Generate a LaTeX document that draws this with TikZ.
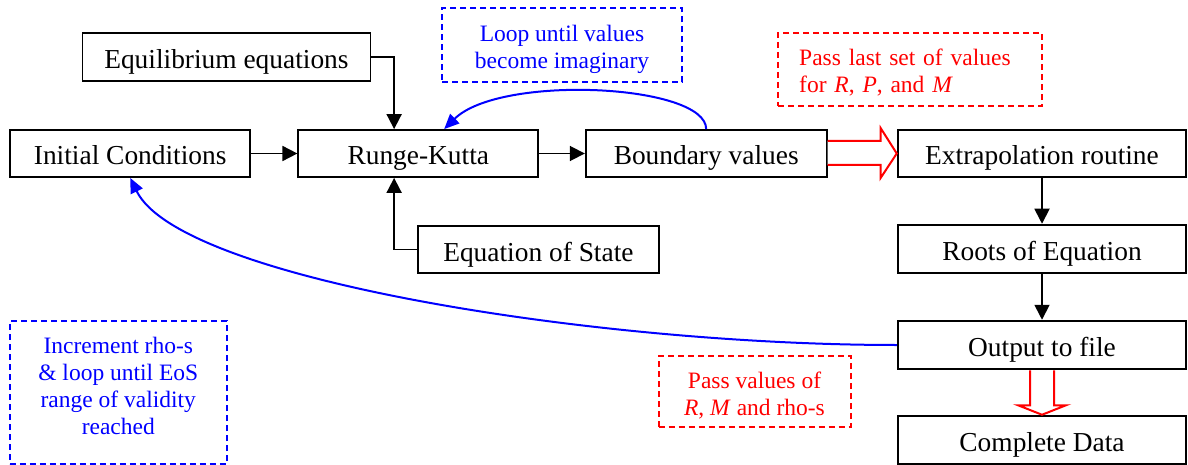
\documentclass[tikz,border=0pt]{standalone}
\usepackage{fontspec}
\setmainfont{Liberation Serif}
\usetikzlibrary{arrows.meta,calc}

\begin{document}
\begin{tikzpicture}[x=1pt,y=-1pt,
  box/.style={draw=black,line width=1.8pt,inner sep=0pt,text height=23pt,text depth=0pt,
    font=\fontsize{27.4}{32}\selectfont},
  boxb/.style={box,line width=2.5pt},
  note/.style={draw,line width=2pt,dash pattern=on 6pt off 4pt,inner sep=0pt,
    font=\fontsize{23.5}{27}\selectfont},
  arr/.style={-{Triangle[length=15pt,width=15pt]},line width=1.8pt},
  loop/.style={blue,line width=2pt,-{Triangle[length=15pt,width=13pt]}},
  hollow/.style={draw=red,fill=white,line width=2pt,line join=miter}
]
\useasboundingbox (0,0) rectangle (1188,465);

% process boxes
\node[box,minimum width=288pt,minimum height=48pt] (eq)  at (226.4,57)    {Equilibrium equations};
\node[box,minimum width=240pt,minimum height=47pt] (ic)  at (130.2,153.5) {Initial Conditions};
\node[box,minimum width=240pt,minimum height=47pt] (rk)  at (418.3,153.5) {Runge-Kutta};
\node[box,minimum width=241pt,minimum height=47pt] (bv)  at (706.2,153.5) {Boundary values};
\node[box,minimum width=241pt,minimum height=47pt] (eos) at (538.4,249.5) {Equation of State};
\node[boxb,minimum width=288pt,minimum height=47pt] (ex)  at (1042,153.5) {Extrapolation routine};
\node[boxb,minimum width=288pt,minimum height=48pt] (ro)  at (1042,249)   {Roots of Equation};
\node[boxb,minimum width=288pt,minimum height=48pt] (out) at (1042,345)   {Output to file};
\node[boxb,minimum width=288pt,minimum height=48pt] (cd)  at (1042,440)   {Complete Data};

% dashed annotations
\node[note,blue,minimum width=240pt,minimum height=73pt,align=center] (loopnote) at (562,45.5)
  {\rule{0pt}{33pt}Loop until values\\become imaginary\rule[-14pt]{0pt}{0pt}};
\node[note,red,minimum width=264pt,minimum height=73pt,text width=222pt,inner xsep=21pt,align=left]
  (passnote) at (910.2,69.5)
  {\rule{0pt}{32pt}Pass last set of values\\for \textit{R}, \textit{P}, and \textit{M}\rule[-13pt]{0pt}{0pt}};
\node[note,blue,minimum width=217pt,minimum height=143pt,align=center] (incnote) at (118.3,392.5)
  {\rule{0pt}{32pt}Increment rho-s\\\& loop until EoS\\range of validity\\reached\rule[-29pt]{0pt}{0pt}};
\node[note,red,minimum width=192pt,minimum height=71pt,align=center] (valnote) at (754.5,391.5)
  {\rule{0pt}{32pt}Pass values of\\\textit{R}, \textit{M} and rho-s\rule[-12pt]{0pt}{0pt}};

% data flow
\draw[arr] (eq.east) -| ($(rk.north west)!0.4!(rk.north east)$);
\draw[arr] (eos.west) -| ($(rk.south west)!0.4!(rk.south east)$);
\draw[arr] (ic.east) -- (rk.west);
\draw[arr] (rk.east) -- (bv.west);
\draw[arr] (ex.south) -- (ro.north);
\draw[arr] (ro.south) -- (out.north);

% loops
\draw[loop] (bv.north) .. controls (706,84) and (500,74) .. ($(rk.north west)!0.607!(rk.north east)$);
\draw[loop] (out.west) .. controls (600,345) and (180,280) .. (ic.south);

% hollow block arrows
\draw[hollow] ($(bv.east)+(0,-12.5)$) -- ++(53,0) -- ++(0,-13) -- (ex.west)
  -- ($(bv.east)+(53,24.5)$) -- ++(0,-13) -- ($(bv.east)+(0,11.5)$);
\draw[hollow] ($(out.south)+(-12,0)$) -- ++(0,35) -- ++(-12,0) -- (cd.north)
  -- ($(out.south)+(24,35)$) -- ++(-12,0) -- ($(out.south)+(12,0)$);
\end{tikzpicture}
\end{document}
